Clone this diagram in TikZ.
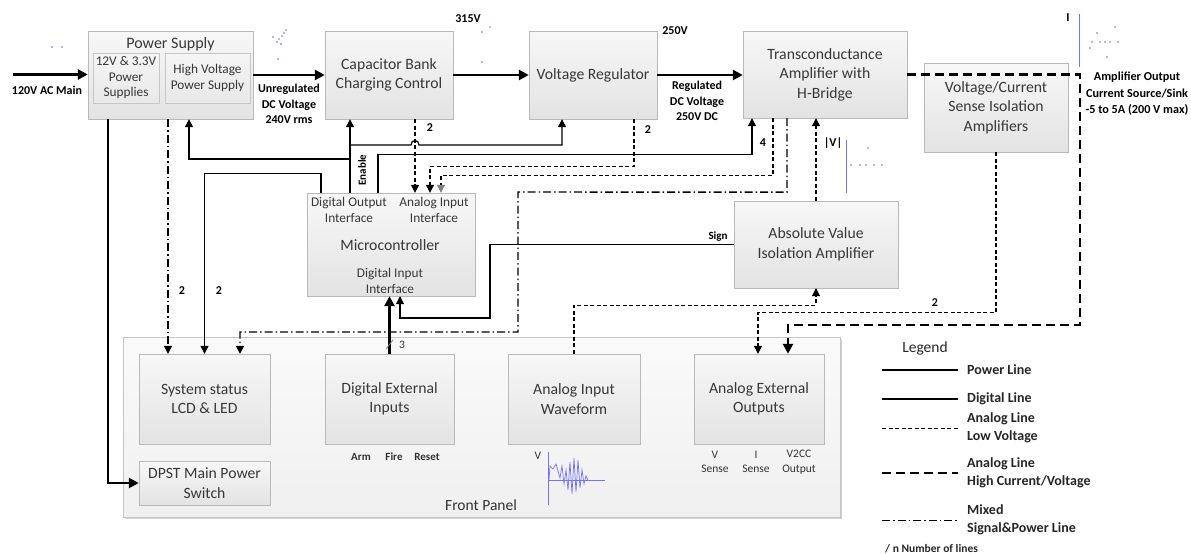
\documentclass[tikz,border=0pt]{standalone}
\usepackage{fontspec}
\setmainfont{Carlito}
\usetikzlibrary{arrows.meta,calc,shadows}
\begin{document}
\begin{tikzpicture}[x=1pt,y=-1pt,
 box/.style={draw=gray!55, top color=white!97!black, bottom color=white!89!black, inner sep=0pt, align=center, text=black!78, font=\fontsize{15.7}{19.5}\selectfont, drop shadow={shadow xshift=1pt,shadow yshift=-1pt,opacity=0.25}},
 inbox/.style={draw=gray!45, top color=white!96!black, bottom color=white!91!black, inner sep=0pt, align=center, text=black!78, font=\fontsize{13.3}{15.5}\selectfont},
 sub/.style={font=\fontsize{13.3}{16}\selectfont, align=center, text=black!78, inner sep=0pt},
 ann/.style={font=\bfseries\fontsize{12}{15.5}\selectfont, align=center, inner sep=0pt},
 num/.style={font=\bfseries\fontsize{12}{14}\selectfont, inner sep=0pt},
 small/.style={font=\fontsize{11.5}{14.5}\selectfont, align=center, text=black!80, inner sep=0pt},
 power/.style={line width=2.6pt},
 digital/.style={line width=1.2pt},
 alow/.style={line width=1.1pt, dash pattern=on 4pt off 2.5pt},
 ahigh/.style={line width=2.6pt, dash pattern=on 9pt off 5pt},
 mixed/.style={line width=1.1pt, dash pattern=on 8pt off 3pt on 1.5pt off 3pt},
 arr/.style={-{Triangle[length=8pt,width=8pt]}},
 garr/.style={-{Triangle[length=8pt,width=8pt,color=gray]}},
 barr/.style={-{Triangle[length=10pt,width=10pt]}},
 leg/.style={font=\bfseries\fontsize{14}{18}\selectfont, align=left, anchor=west, inner sep=0pt, text=black!85},
 art/.style={blue!55, line width=0.8pt}
]
\useasboundingbox (0,0) rectangle (1191,554);

% ---------- front panel ----------
\node[draw=gray!45, top color=white!98!black, bottom color=white!94!black, minimum width=717pt, minimum height=180pt, inner sep=0pt, drop shadow={shadow xshift=1.5pt,shadow yshift=-1.5pt,opacity=0.35}] (fp) at (481.5,427) {};
\node[font=\fontsize{15.5}{18}\selectfont, text=black!80] (fpl) at (481,505) {Front Panel};

% ---------- boxes ----------
\node[box, minimum width=165pt, minimum height=88pt] (ps) at (170.5,75) {};
\node[font=\fontsize{16}{18}\selectfont, text=black!78] (pst) at (170.5,44) {Power Supply};
\node[inbox, minimum width=66pt, minimum height=50pt] (ps1) at (126,78) {12V \& 3.3V\\Power\\Supplies};
\node[inbox, minimum width=85pt, minimum height=50pt] (ps2) at (207.5,78) {High Voltage\\Power Supply};
\node[box, minimum width=128pt, minimum height=88pt] (cb) at (389,75) {Capacitor Bank\\Charging Control};
\node[box, minimum width=128pt, minimum height=88pt] (vr) at (593,75) {Voltage Regulator};
\node[box, minimum width=164pt, minimum height=87pt] (ta) at (825,74.5) {Transconductance\\Amplifier with\\H-Bridge};
\node[box, minimum width=144pt, minimum height=89pt] (vs) at (996,107.5) {Voltage/Current\\Sense Isolation\\Amplifiers};
\node[box, minimum width=168pt, minimum height=103pt] (mc) at (391,244.5) {};
\node[sub] (mcdo) at (349,210) {Digital Output\\Interface};
\node[sub] (mcai) at (434,210) {Analog Input\\Interface};
\node[font=\fontsize{15.7}{18}\selectfont, text=black!78] (mct) at (390,245) {Microcontroller};
\node[sub] (mcdi) at (390,281) {Digital Input\\Interface};
\node[box, minimum width=164pt, minimum height=87pt] (av) at (816,244.5) {Absolute Value\\Isolation Amplifier};
\node[box, minimum width=131pt, minimum height=90pt] (ss) at (204.5,399) {System status\\LCD \& LED};
\node[box, minimum width=131pt, minimum height=44pt] (dp) at (204.5,483) {DPST Main Power\\Switch};
\node[box, minimum width=129pt, minimum height=90pt] (de) at (389.5,399) {Digital External\\Inputs};
\node[box, minimum width=132pt, minimum height=90pt] (aw) at (574,399) {Analog Input\\Waveform};
\node[box, minimum width=130pt, minimum height=90pt] (ae) at (759,399) {Analog External\\Outputs};

% ---------- annotations ----------
\node[ann] (ac) at (47,90) {120V AC Main};
\node[ann] (unreg) at (289,104) {Unregulated\\DC Voltage\\240V rms};
\node[ann] (reg) at (697,101) {Regulated\\DC Voltage\\250V DC};
\node[num] (v315) at (468,19) {315V};
\node[num] (v250) at (675,31) {250V};
\node[ann, font=\bfseries\fontsize{12.2}{16.5}\selectfont] (ampo) at (1137,94) {Amplifier Output\\Current Source/Sink\\-5 to 5A (200 V max)};
\node[num] (lI) at (1068,18) {I};
\node[num] (lV) at (833,143) {|V|};
\node[num, font=\bfseries\fontsize{11}{13}\selectfont] (sign) at (718,237) {Sign};
\node[num, font=\bfseries\fontsize{11}{13}\selectfont, rotate=90] (enl) at (362,170) {Enable};
\node[num] (n1) at (430,128) {2};
\node[num] (n2) at (648,130) {2};
\node[num] (n3) at (763,143) {4};
\node[num] (n4) at (182,291) {2};
\node[num] (n5) at (219,291) {2};
\node[num] (n6) at (935,303) {2};
\node[small] (n7) at (402,345) {3};
\node[small, font=\bfseries\fontsize{11}{13}\selectfont] (arm) at (361,457) {Arm};
\node[small, font=\bfseries\fontsize{11}{13}\selectfont] (fire) at (394,457) {Fire};
\node[small, font=\bfseries\fontsize{11}{13}\selectfont] (reset) at (427,457) {Reset};
\node[small] (vsn) at (715,462) {V\\Sense};
\node[small] (isn) at (756,462) {I\\Sense};
\node[small] (v2cc) at (799,462) {V2CC\\Output};
\node[small] (wv) at (538,456) {V};

% ---------- waveform ----------
\draw[art] (548,452) -- (548,505);
\draw[art] (548,480) -- (605,480);
\draw[blue!55, line width=0.7pt] (549,480) -- (550,466) -- (553,469) -- (556,464) -- (558,471) -- (560,478) -- (562,466) -- (564,484) -- (566,470) -- (568,490) -- (570,462) -- (572,494) -- (574,458) -- (576,492) -- (578,460) -- (580,488) -- (582,470) -- (584,484) -- (586,476) -- (588,480);

% ---------- artifacts ----------
\draw[art] (1079,14) -- (1079,67);
\draw[art] (846,140) -- (846,193);
\foreach \p in {(52,47),(62,47),(286,30),(284,33),(282,36),(273,37),(279,39),(277,42),(281,44),(278,59),(482,32),(482,62),(1097,33),(1115,27),(1092,42),(1100,42),(1105,42),(1110,42),(1118,42),(1090,48),(1107,57),(868,148),(851,165),(860,165),(866,165),(874,165),(882,165)}
  \fill[blue!60] \p circle (0.9pt);
\fill[red!60] (490,27) circle (0.9pt);

% ---------- connectors ----------
\coordinate (acin) at (13,74.5);
\draw[power,barr] (acin) -- (acin -| ps.west);
\draw[power,barr] (ps.east) -- (cb.west);
\draw[power,barr] (cb.east) -- (vr.west);
\draw[power,barr] (vr.east) -- (vr.east -| ta.west);
\draw[power,barr] ($(ps.south)+(-62.5,0)$) |- (dp.west);
\draw[mixed,arr] ($(ps.south)+(-2.5,0)$) -- ($(ss.north)+(-36.5,0)$);
\draw[digital,arr] ($(mc.north)+(-70,0)$) -- ++(0,-19) -| (ss.north);
% enable
\coordinate (enA) at (350,159);
\coordinate (enB) at (350,145);
\draw[digital,arr] ($(mc.north)+(-41,0)$) -- ($(cb.south)+(-39,0)$);
\draw[digital,arr] (enA) -| ($(ps.south)+(18.5,0)$);
\draw[digital,arr] (enB) -- (411,145) .. controls (411,139) and (419,139) .. (419,145) -| ($(vr.south)+(-31,0)$);
\draw[digital,arr] ($(mc.north)+(-13,0)$) -- ++(0,-38) -| ($(ta.south)+(-73,0)$);
% analog inputs to micro
\draw[alow,arr] ($(cb.south)+(26,0)$) -- ($(mc.north)+(24,0)$);
\draw[alow,arr] ($(vr.south)+(41,0)$) -- ++(0,47) -| ($(mc.north)+(39,0)$);
\draw[alow,garr] ($(ta.south)+(-52,0)$) -- ++(0,57) -| ($(mc.north)+(50,0)$);
% mixed to status
\draw[mixed,line width=1.4pt,arr] ($(ta.south)+(-38,0)$) -- ++(0,74) -- (518,192) -- (518,332) -| ($(ss.north)+(35.5,0)$);
% abs value
\draw[alow,arr] (av.north) -- (av.north |- ta.south);
\draw[digital,arr] (av.west) -- (490,244.5) -- (490,318) -| ($(mc.south)+(9,0)$);
\draw[power,barr] (de.north) -- (de.north |- mc.south);
\draw[gray, line width=0.8pt] (386,349) -- (393,340);
\draw[alow,arr] (aw.north) |- ($(av.south)+(0,17)$) -- (av.south);
\draw[alow,arr] (vs.south) -- ++(0,160) -| ($(ae.north)+(-1,0)$);
\draw[ahigh,barr] (ta.east) -- (1080,74.5) -- (1080,325) -| ($(ae.north)+(29,0)$);

% ---------- legend ----------
\node[font=\fontsize{15.5}{18}\selectfont, text=black!85] (legt) at (925,348) {Legend};
\coordinate (l1a) at (882,370); \coordinate (l1b) at (958,370);
\coordinate (l2a) at (882,399); \coordinate (l2b) at (958,399);
\coordinate (l3a) at (882,428); \coordinate (l3b) at (958,428);
\coordinate (l4a) at (882,473); \coordinate (l4b) at (958,473);
\coordinate (l5a) at (882,520); \coordinate (l5b) at (958,520);
\draw[power] (l1a) -- (l1b);
\draw[digital] (l2a) -- (l2b);
\draw[line width=0.9pt, dash pattern=on 4pt off 2.5pt] (l3a) -- (l3b);
\draw[ahigh] (l4a) -- (l4b);
\draw[line width=0.9pt, dash pattern=on 8pt off 3pt on 1.5pt off 3pt] (l5a) -- (l5b);
\node[leg] (lt1) at (967,370) {Power Line};
\node[leg] (lt2) at (967,399) {Digital Line};
\node[leg] (lt3) at (967,428) {Analog Line\\Low Voltage};
\node[leg] (lt4) at (967,473) {Analog Line\\High Current/Voltage};
\node[leg] (lt5) at (967,520) {Mixed\\Signal\&Power Line};
\node[leg, font=\bfseries\fontsize{11.5}{13}\selectfont] (lt6) at (885,549) {/ n Number of lines};
\end{tikzpicture}
\end{document}
